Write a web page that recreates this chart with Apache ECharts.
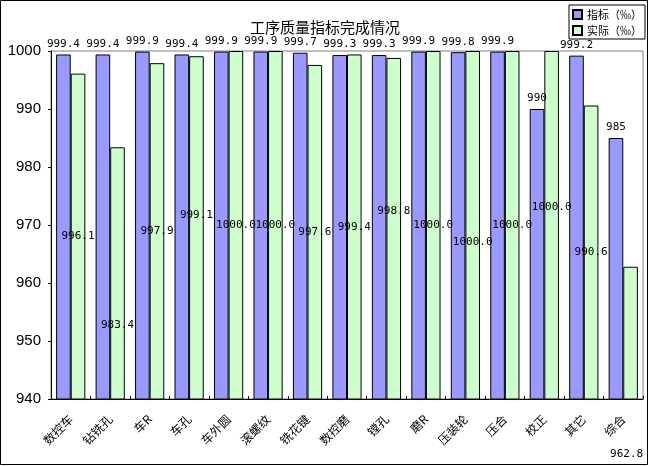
<!DOCTYPE html>
<html>
<head>
<meta charset="utf-8">
<script src="https://cdn.jsdelivr.net/npm/echarts@6/dist/echarts.min.js"></script>
<style>
html,body{margin:0;padding:0;background:#fff;}
#c{width:649px;height:466px;}
</style>
</head>
<body>
<div id="c"></div>
<script>
const categories = ['数控车','钻铣孔','车R','车孔','车外圆','滚螺纹','铣花键','数控磨','镗孔','磨R','压装轮','压合','校正','其它','综合'];
const targetValues = [999.4, 999.4, 999.9, 999.4, 999.9, 999.9, 999.7, 999.3, 999.3, 999.9, 999.8, 999.9, 990, 999.2, 985];
const actualValues = [996.1, 983.4, 997.9, 999.1, 1000.0, 1000.0, 997.6, 999.4, 998.8, 1000.0, 1000.0, 1000.0, 1000.0, 990.6, 962.8];
const seriesNames = ['指标（‰）', '实际（‰）'];
const yTicks = {min: 940, max: 1000, interval: 10};

// label nudges (style only)
const actualLabelNudgeY = [0, 52, 0, -13, 0, 0, 0, 0, -18, 0, 17, 0, -18, 0, 121];
const actualLabelNudgeX = [0, 0, 0, 0, 0, 0, 0, 0, 0, 0, 0, 0, 0, 0, -4];

const chart = echarts.init(document.getElementById('c'), null, {renderer: 'canvas'});
const labelFont = {fontFamily: 'DejaVu Sans Mono', fontSize: 11, color: '#000'};

const option = {
  animation: false,
  backgroundColor: '#fff',
  title: {
    text: '工序质量指标完成情况',
    left: 320, top: 15, textAlign: 'center',
    textStyle: {fontFamily: 'Noto Sans CJK SC', fontSize: 15, fontWeight: 'normal', color: '#000'}
  },
  legend: {
    orient: 'vertical',
    left: 569, top: 5,
    padding: [4, 3, 3, 3],
    itemGap: 5,
    itemWidth: 9, itemHeight: 9,
    borderColor: '#000', borderWidth: 1,
    textStyle: {fontFamily: 'Noto Sans CJK SC', fontSize: 11, color: '#000'},
    data: seriesNames.map(n => ({name: n, icon: 'rect'}))
  },
  graphic: [{
    type: 'rect', z: 100, silent: true,
    shape: {x: 0.5, y: 0.5, width: 647, height: 464},
    style: {fill: 'none', stroke: '#000', lineWidth: 1}
  }],
  grid: {
    left: 51, right: 6, top: 51, bottom: 67,
    show: true, borderColor: '#808080', borderWidth: 1, backgroundColor: '#fff'
  },
  xAxis: {
    type: 'category',
    data: categories,
    axisLine: {lineStyle: {color: '#000'}},
    axisTick: {show: true, inside: true, length: 3, lineStyle: {color: '#000'}},
    axisLabel: {
      rotate: 45, interval: 0, margin: 18,
      fontFamily: 'Noto Sans CJK SC', fontSize: 12, color: '#000'
    }
  },
  yAxis: {
    type: 'value',
    min: yTicks.min, max: yTicks.max, interval: yTicks.interval,
    splitLine: {show: false},
    axisLine: {show: true, lineStyle: {color: '#000'}},
    axisTick: {show: true, length: 3, lineStyle: {color: '#000'}},
    axisLabel: {margin: 10, fontFamily: 'Liberation Sans', fontSize: 15, color: '#000', formatter: v => String(v)}
  },
  series: [
    {
      name: seriesNames[0], type: 'bar',
      data: targetValues,
      barGap: '0%', barCategoryGap: '26%',
      itemStyle: {color: '#9999FF', borderColor: '#000', borderWidth: 1},
      label: Object.assign({show: true, position: 'top', distance: 5, formatter: p => String(p.value)}, labelFont)
    },
    {
      name: seriesNames[1], type: 'bar',
      data: actualValues.map((v, i) => ({
        value: v,
        label: {offset: [actualLabelNudgeX[i], actualLabelNudgeY[i]]}
      })),
      barGap: '0%', barCategoryGap: '26%',
      itemStyle: {color: '#CCFFCC', borderColor: '#000', borderWidth: 1},
      label: Object.assign({show: true, position: 'inside', formatter: p => p.value.toFixed(1)}, labelFont)
    }
  ]
};
chart.setOption(option);
</script>
</body>
</html>
